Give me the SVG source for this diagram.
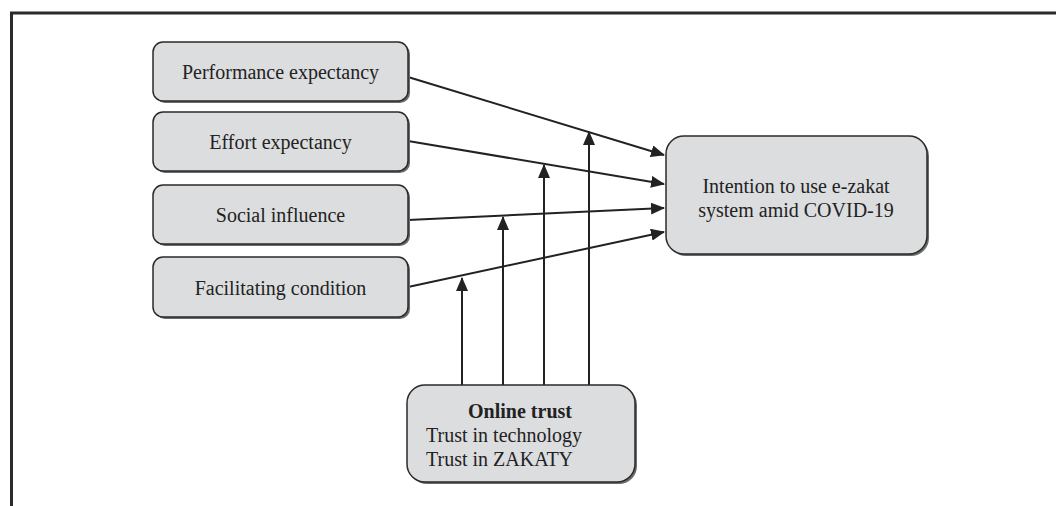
<svg xmlns="http://www.w3.org/2000/svg" width="1056" height="506" viewBox="0 0 1056 506">
<style>
.box{fill:#dcdddf;stroke:#2a2a2a;stroke-width:1.5}
.sh{fill:#6a6a6a}
.t{font-family:"Liberation Serif","Times New Roman",serif;font-size:20px;fill:#222}
.c{stroke:#222;stroke-width:2;fill:none}
</style>
<defs>
<marker id="ah2" markerWidth="14" markerHeight="12" refX="13" refY="6" orient="auto" markerUnits="userSpaceOnUse" viewBox="0 0 14 12">
<path d="M0,0 L14,6 L0,12 z" fill="#222"/>
</marker>
</defs>
<rect x="0" y="0" width="1056" height="506" fill="#fff"/>
<path d="M11.5,506 V13 H1056" fill="none" stroke="#2a2a2a" stroke-width="3"/>
<g id="connectors">
<line class="c" x1="408" y1="77" x2="664" y2="155" marker-end="url(#ah2)"/>
<line class="c" x1="408" y1="141" x2="664" y2="184" marker-end="url(#ah2)"/>
<line class="c" x1="408" y1="220" x2="664" y2="208" marker-end="url(#ah2)"/>
<line class="c" x1="408" y1="287" x2="664" y2="232" marker-end="url(#ah2)"/>
<line class="c" x1="462" y1="385" x2="462" y2="278" marker-end="url(#ah2)"/>
<line class="c" x1="503" y1="385" x2="503" y2="217" marker-end="url(#ah2)"/>
<line class="c" x1="544" y1="385" x2="544" y2="165" marker-end="url(#ah2)"/>
<line class="c" x1="589" y1="385" x2="589" y2="132" marker-end="url(#ah2)"/>
</g>
<g id="performance">
<rect class="sh" x="155" y="44" width="255" height="59" rx="10"/>
<rect class="box" x="153" y="42" width="255" height="59" rx="10"/>
<text class="t" x="280.5" y="79" text-anchor="middle">Performance expectancy</text>
</g>
<g id="effort">
<rect class="sh" x="155" y="114" width="255" height="59" rx="10"/>
<rect class="box" x="153" y="112" width="255" height="59" rx="10"/>
<text class="t" x="280.5" y="149" text-anchor="middle">Effort expectancy</text>
</g>
<g id="social">
<rect class="sh" x="155" y="187" width="255" height="59" rx="10"/>
<rect class="box" x="153" y="185" width="255" height="59" rx="10"/>
<text class="t" x="280.5" y="222" text-anchor="middle">Social influence</text>
</g>
<g id="facilitating">
<rect class="sh" x="155" y="259" width="255" height="60" rx="10"/>
<rect class="box" x="153" y="257" width="255" height="60" rx="10"/>
<text class="t" x="280.5" y="295" text-anchor="middle">Facilitating condition</text>
</g>
<g id="intention">
<rect class="sh" x="668" y="138" width="261" height="118" rx="18"/>
<rect class="box" x="666" y="136" width="261" height="118" rx="18"/>
<text class="t" x="796" y="193" text-anchor="middle">Intention to use e-zakat</text>
<text class="t" x="796" y="217" text-anchor="middle">system amid COVID-19</text>
</g>
<g id="onlinetrust">
<rect class="sh" x="409" y="387" width="228" height="97" rx="18"/>
<rect class="box" x="407" y="385" width="228" height="97" rx="18"/>
<text class="t" x="520" y="418" text-anchor="middle" font-weight="bold">Online trust</text>
<text class="t" x="426" y="442">Trust in technology</text>
<text class="t" x="426" y="466">Trust in ZAKATY</text>
</g>
</svg>
